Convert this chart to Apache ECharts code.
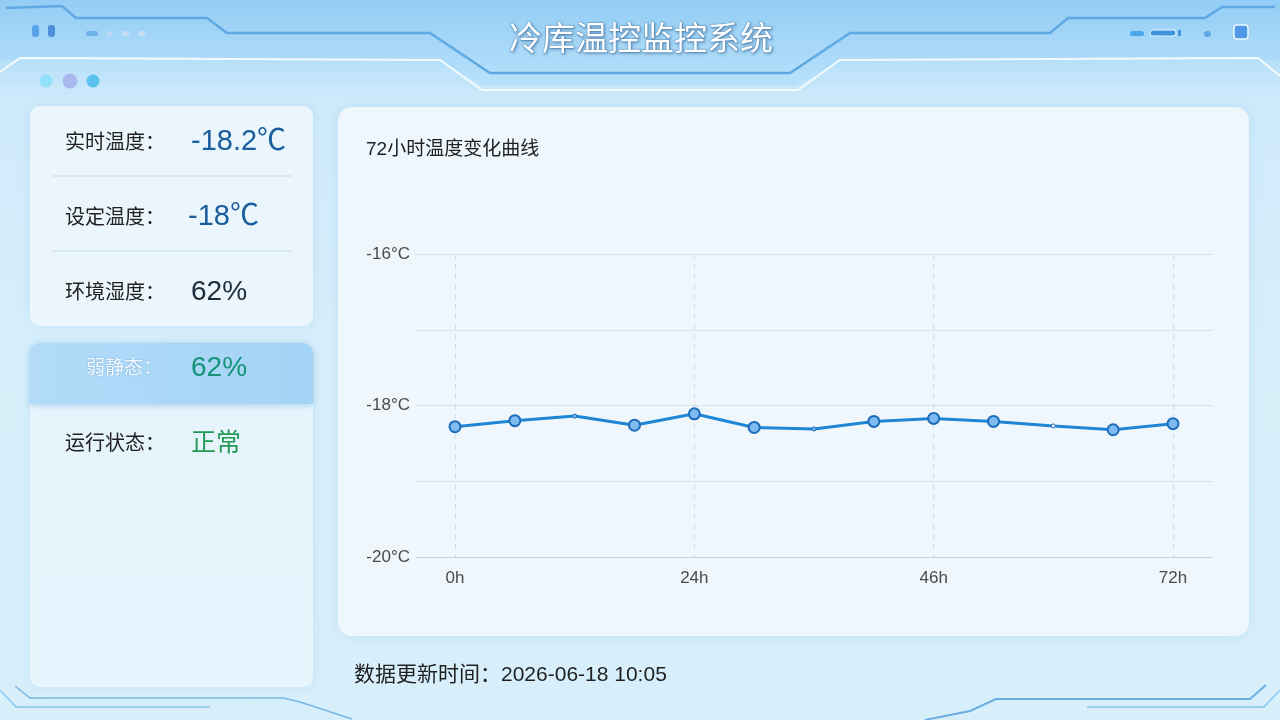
<!DOCTYPE html>
<html>
<head>
<meta charset="utf-8">
<script src="https://cdn.jsdelivr.net/npm/echarts@6/dist/echarts.min.js"></script>
<style>
  html, body { margin: 0; padding: 0; }
  body {
    width: 1280px; height: 720px; overflow: hidden;
    background: linear-gradient(180deg, #9ed3f6 0px, #b3def9 55px, #cfeafb 100px, #d9f0fb 400px, #d7effb 720px);
  }
  #main { width: 1280px; height: 720px; }
</style>
</head>
<body>
<div id="main"></div>
<script>
// 72h temperature curve, one reading every 6 hours
const hours = ['0h', '6h', '12h', '18h', '24h', '30h', '36h', '42h', '46h', '54h', '60h', '66h', '72h'];
const temps = [-18.28, -18.20, -18.14, -18.26, -18.11, -18.29, -18.31, -18.21, -18.17, -18.21, -18.27, -18.32, -18.24];
const smallMarks = [2, 6, 10];
const yTicks = [-20, -18, -16];

const font = '"Noto Sans CJK SC", "Noto Sans", sans-serif';
const numFont = '"Liberation Sans", "Noto Sans CJK SC", sans-serif';

const txt = (text, x, y, size, color, ff) => ({
    type: 'text', z: 5,
    style: { text: text, x: x, y: y, font: size + 'px ' + (ff || font), fill: color, textVerticalAlign: 'middle' }
});

const line = (pts, color, w) => ({
    type: 'polyline', z: -5,
    shape: { points: pts },
    style: { stroke: color, lineWidth: w, fill: null }
});

const rrect = (x, y, w, h, r, fill, extra) => ({
    type: 'rect', z: -8,
    shape: { x: x, y: y, width: w, height: h, r: r },
    style: Object.assign({ fill: fill }, extra || {})
});

let myChart = echarts.init(document.getElementById('main'));
myChart.setOption({
    backgroundColor: 'transparent',
    animation: false,
    graphic: [
        // header band
        {
            type: 'polygon', z: -9,
            shape: { points: [[0, 0], [1280, 0], [1280, 60], [845, 60], [795, 86], [485, 86], [435, 60], [0, 60]] },
            style: { fill: new echarts.graphic.LinearGradient(0, 0, 0, 1, [
                { offset: 0, color: '#93cdf5' }, { offset: 1, color: '#b8e1fa' }]) }
        },
        line([[6, 8], [62, 6], [76, 18], [207, 18], [227, 33], [430, 33], [490, 73], [790, 73], [850, 33], [1050, 33], [1068, 18], [1205, 18], [1222, 7], [1275, 7]], '#5fa8e4', 2.5),
        line([[0, 72], [20, 58], [440, 60], [482, 90], [798, 90], [840, 60], [1258, 58], [1280, 76]], '#f4fbff', 2),
        // header decorations
        rrect(32, 25, 7, 12, 3, '#5aa3e8'),
        rrect(48, 25, 7, 12, 3, '#4f8fd9'),
        rrect(86, 31, 12, 5, 2.5, '#6fb2ea'),
        rrect(106, 31, 7, 5, 2.5, '#b9d8f4'),
        rrect(122, 31, 7, 5, 2.5, '#c6dcf5'),
        rrect(138, 31, 7, 5, 2.5, '#c9def5'),
        rrect(1130, 31, 14, 5, 2.5, '#4aa6e6'),
        rrect(1150, 30, 26, 6, 3, '#3f94e0', { stroke: '#e8f6ff', lineWidth: 1 }),
        rrect(1178, 30, 3, 6, 1, '#3f94e0'),
        rrect(1204, 31, 7, 6, 3, '#5ea8e6'),
        rrect(1234, 25, 14, 14, 3, '#4e98e6', { stroke: '#eaf6ff', lineWidth: 1.5 }),
        { type: 'circle', z: -5, shape: { cx: 46, cy: 81, r: 6.5 }, style: { fill: '#8fe0f8' } },
        { type: 'circle', z: -5, shape: { cx: 70, cy: 81, r: 7.5 }, style: { fill: '#aab8f0' } },
        { type: 'circle', z: -5, shape: { cx: 93, cy: 81, r: 6.5 }, style: { fill: '#5cc1ec' } },
        // bottom frame lines
        line([[15, 686], [30, 698], [283, 698], [300, 702], [352, 719]], '#78b7e4', 1.5),
        line([[0, 690], [16, 707], [210, 707]], '#8cc6e9', 1.5),
        line([[925, 720], [970, 711], [996, 699], [1250, 699], [1266, 685]], '#6aaee2', 2),
        line([[1087, 707], [1264, 707], [1280, 690]], '#8cc6e9', 1.5),
        // cards
        rrect(30, 106, 283, 220, 10, 'rgba(240,248,253,0.88)', { shadowBlur: 12, shadowColor: 'rgba(120,180,225,0.25)' }),
        rrect(30, 343, 283, 344, 10, 'rgba(236,247,253,0.85)', { shadowBlur: 12, shadowColor: 'rgba(120,180,225,0.25)' }),
        {
            type: 'rect', z: -7,
            shape: { x: 30, y: 343, width: 283, height: 61, r: [10, 10, 0, 0] },
            style: { fill: new echarts.graphic.LinearGradient(0, 0, 1, 0, [
                { offset: 0, color: '#b3dbf8' }, { offset: 1, color: '#a3d3f5' }]),
                shadowBlur: 6, shadowOffsetY: 2, shadowColor: 'rgba(80,150,210,0.35)' }
        },
        rrect(52, 355, 2, 36, 1, '#6a9cc8'),
        rrect(338, 107, 911, 529, 14, 'rgba(242,249,253,0.92)', { shadowBlur: 14, shadowColor: 'rgba(120,180,225,0.25)' }),
        // dividers
        { type: 'line', z: -4, shape: { x1: 52, y1: 176, x2: 292, y2: 176 }, style: { stroke: '#c6dcea', lineWidth: 1 } },
        { type: 'line', z: -4, shape: { x1: 52, y1: 251, x2: 292, y2: 251 }, style: { stroke: '#c6dcea', lineWidth: 1 } },
        // texts
        {
            type: 'text', z: 5,
            style: { text: '冷库温控监控系统', x: 641, y: 37, font: '33px ' + font, fill: '#ffffff', textAlign: 'center', textVerticalAlign: 'middle',
                stroke: 'rgba(70,120,170,0.55)', lineWidth: 1,
                textShadowBlur: 3, textShadowColor: 'rgba(40,90,140,0.6)', textShadowOffsetX: 1, textShadowOffsetY: 1 }
        },
        txt('实时温度：', 65, 141, 20, '#222'),
        txt('-18.2℃', 191, 142, 29, '#1a5e9e', numFont),
        txt('设定温度：', 65, 216, 20, '#222'),
        txt('-18℃', 188, 217, 29, '#1a5e9e', numFont),
        txt('环境湿度：', 65, 291, 20, '#222'),
        txt('62%', 191, 292, 28, '#1d2b3c', numFont),
        {
            type: 'text', z: 5,
            style: { text: '弱静态：', x: 86, y: 367, font: '19px ' + font, fill: '#f3f9ff', textVerticalAlign: 'middle',
                textShadowBlur: 2, textShadowColor: 'rgba(60,120,180,0.5)' }
        },
        txt('62%', 191, 368, 28, '#16937a', numFont),
        txt('运行状态：', 65, 442, 20, '#222'),
        txt('正常', 191, 441, 25, '#219a55'),
        txt('72小时温度变化曲线', 366, 150, 19, '#222', numFont),
        txt('数据更新时间：2026-06-18 10:05', 354, 675, 21, '#1f1f1f', numFont)
    ],
    grid: [
        { left: 415, right: 67, top: 254, bottom: 163 },
        { left: 455, right: 107, top: 254, bottom: 163 }
    ],
    xAxis: [
        { type: 'value', gridIndex: 0, show: false, min: 0, max: 1 },
        {
            type: 'category', gridIndex: 1, data: hours, boundaryGap: false,
            axisLine: { show: false }, axisTick: { show: false },
            axisLabel: { interval: 3, margin: 13, fontSize: 17, color: '#4a4a4a', fontFamily: numFont },
            splitLine: { show: true, interval: 3, lineStyle: { color: '#d3dde6', type: [5, 5], width: 1 } }
        }
    ],
    yAxis: [
        {
            type: 'value', gridIndex: 0, min: -20, max: -16, interval: 1,
            axisLine: { show: false }, axisTick: { show: false },
            axisLabel: {
                margin: 5, fontSize: 17, color: '#4a4a4a', fontFamily: numFont,
                formatter: v => yTicks.includes(v) ? v + '°C' : ''
            },
            splitLine: { lineStyle: { color: ['#b9d8ee', '#d4e5f0', '#d4e5f0', '#d4e5f0', '#cfe2f0'], width: 1 } }
        },
        { type: 'value', gridIndex: 1, min: -20, max: -16, show: false, splitLine: { show: false } }
    ],
    series: [
        {
            type: 'line', xAxisIndex: 1, yAxisIndex: 1,
            data: temps.map((v, i) => smallMarks.includes(i)
                ? { value: v, symbolSize: 4, itemStyle: { color: i === 10 ? '#ffffff' : '#7fbaf0', borderWidth: 1 } }
                : v),
            symbol: 'circle', symbolSize: 11,
            lineStyle: { color: '#1f86d6', width: 3 },
            itemStyle: { color: '#7fbaf0', borderColor: '#1d6cbc', borderWidth: 2 }
        }
    ]
});
</script>
</body>
</html>
